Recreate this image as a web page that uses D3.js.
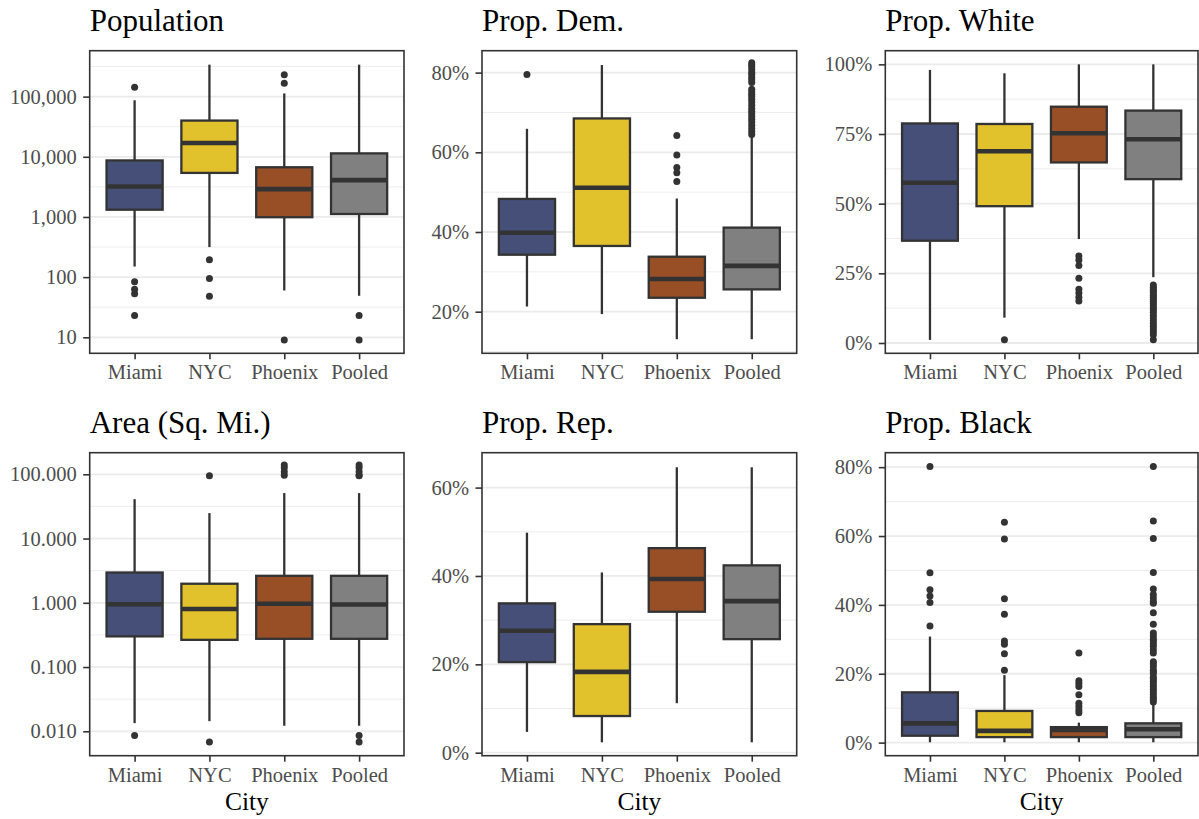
<!DOCTYPE html>
<html>
<head>
<meta charset="utf-8">
<script src="https://cdn.jsdelivr.net/npm/d3@7"></script>
<style>
  html, body { margin: 0; padding: 0; background: #ffffff; }
  svg { display: block; }
  svg text { font-family: "Liberation Serif", "Tinos", "Times New Roman", "Nimbus Roman", "DejaVu Serif", serif; }
</style>
</head>
<body>
<svg id="chart" width="1199" height="819"></svg>
<script>
// ---------------- DATA ----------------
const cities = ["Miami", "NYC", "Phoenix", "Pooled"];
const cityColors = ["#454F77", "#E2C22C", "#984F26", "#808080"];

// box stats per city: [lower whisker, Q1, median, Q3, upper whisker]
const popStats = [[150, 1320, 3200, 8700, 87000], [316, 5400, 17000, 40000, 340000], [60, 990, 2900, 6700, 113000], [49, 1120, 4100, 11400, 340000]];
const popOutliers = [[143000, 84, 63, 53, 23], [195, 95, 48], [232000, 167000, 9], [23, 9]];
const popTicks = [10, 100, 1000, 10000, 100000];
const popDomain = [5.42, 580000];

const demStats = [[0.213, 0.343, 0.398, 0.483, 0.659], [0.194, 0.365, 0.511, 0.685, 0.819], [0.131, 0.235, 0.282, 0.338, 0.484], [0.131, 0.256, 0.315, 0.411, 0.640]];
const demOutliers = [[0.795], [], [0.642, 0.593, 0.562, 0.549, 0.527],
  [0.825, 0.82, 0.815, 0.808, 0.80, 0.795, 0.788, 0.782, 0.775, 0.758, 0.752, 0.746, 0.74, 0.733, 0.726, 0.718, 0.71, 0.703, 0.697, 0.69, 0.683, 0.676, 0.668, 0.66, 0.652, 0.645]];
const demTicks = [0.2, 0.4, 0.6, 0.8];
const demDomain = [0.0956, 0.855];

const whiteStats = [[0.011, 0.367, 0.575, 0.788, 0.98], [0.091, 0.491, 0.688, 0.786, 0.968], [0.373, 0.648, 0.753, 0.848, 1.0], [0.236, 0.588, 0.731, 0.834, 1.0]];
const whiteOutliers = [[], [0.012], [0.312, 0.298, 0.278, 0.232, 0.193, 0.179, 0.164, 0.151],
  [0.208, 0.2, 0.193, 0.186, 0.179, 0.171, 0.164, 0.157, 0.15, 0.142, 0.134, 0.126, 0.118, 0.11, 0.1, 0.09, 0.08, 0.07, 0.06, 0.05, 0.04, 0.03, 0.012]];
const whiteTicks = [0, 0.25, 0.5, 0.75, 1.0];
const whiteDomain = [-0.037, 1.049];

const areaStats = [[0.0134, 0.30, 0.95, 2.96, 41], [0.0144, 0.265, 0.80, 1.98, 24.9], [0.0122, 0.275, 0.965, 2.63, 51], [0.0122, 0.275, 0.94, 2.63, 51]];
const areaOutliers = [[0.0086], [95, 0.0068], [140, 126, 110, 97], [140, 126, 110, 97, 95, 0.0086, 0.0068]];
const areaTicks = [0.01, 0.1, 1, 10, 100];
const areaDomain = [0.00417, 216.8];

const repStats = [[0.047, 0.205, 0.276, 0.338, 0.498], [0.0235, 0.083, 0.183, 0.291, 0.408], [0.112, 0.319, 0.393, 0.463, 0.646], [0.0235, 0.257, 0.343, 0.424, 0.646]];
const repOutliers = [[], [], [], []];
const repTicks = [0, 0.2, 0.4, 0.6];
const repDomain = [-0.0068, 0.679];

const blackStats = [[0.001, 0.020, 0.056, 0.146, 0.308], [0.001, 0.016, 0.034, 0.092, 0.196], [0.001, 0.016, 0.037, 0.045, 0.058], [0.001, 0.016, 0.039, 0.056, 0.112]];
const blackOutliers = [[0.802, 0.493, 0.444, 0.426, 0.407, 0.339], [0.64, 0.591, 0.418, 0.373, 0.295, 0.286, 0.258, 0.21],
  [0.26, 0.18, 0.172, 0.163, 0.139, 0.114, 0.105, 0.095, 0.087],
  [0.802, 0.644, 0.593, 0.494, 0.446, 0.43, 0.42, 0.41, 0.405, 0.377, 0.344, 0.318, 0.31, 0.30, 0.295, 0.287, 0.28, 0.27, 0.26, 0.235, 0.228, 0.22, 0.21, 0.205, 0.2, 0.19, 0.185, 0.178, 0.17, 0.163, 0.155, 0.148, 0.14, 0.132, 0.125, 0.118]];
const blackTicks = [0, 0.2, 0.4, 0.6, 0.8];
const blackDomain = [-0.038, 0.842];

const titles = ["Population", "Prop. Dem.", "Prop. White", "Area (Sq. Mi.)", "Prop. Rep.", "Prop. Black"];
const xTitle = "City";

// ---------------- LAYOUT ----------------
const colLeft = [89.7, 482, 885.3];
const colRight = [404, 796.7, 1198];
const rowTop = [50.7, 452.7];
const rowBottom = [353.3, 755.7];

const fmtComma = d3.format(",");
const fmt3 = d3.format(".3f");
const fmtPct = d3.format(".0%");

const panels = [
  { title: titles[0], stats: popStats, out: popOutliers, ticks: popTicks, domain: popDomain, log: true, fmt: fmtComma, col: 0, row: 0 },
  { title: titles[1], stats: demStats, out: demOutliers, ticks: demTicks, domain: demDomain, log: false, fmt: fmtPct, col: 1, row: 0 },
  { title: titles[2], stats: whiteStats, out: whiteOutliers, ticks: whiteTicks, domain: whiteDomain, log: false, fmt: fmtPct, col: 2, row: 0 },
  { title: titles[3], stats: areaStats, out: areaOutliers, ticks: areaTicks, domain: areaDomain, log: true, fmt: fmt3, col: 0, row: 1 },
  { title: titles[4], stats: repStats, out: repOutliers, ticks: repTicks, domain: repDomain, log: false, fmt: fmtPct, col: 1, row: 1 },
  { title: titles[5], stats: blackStats, out: blackOutliers, ticks: blackTicks, domain: blackDomain, log: false, fmt: fmtPct, col: 2, row: 1 }
];

const svg = d3.select("#chart");
svg.append("rect").attr("width", 1199).attr("height", 819).attr("fill", "#ffffff");

function minorBreaks(ticks, log) {
  const t = log ? ticks.map(v => Math.log10(v)) : ticks.slice();
  const step = t[1] - t[0];
  const ext = [t[0] - step].concat(t, [t[t.length - 1] + step]);
  const res = [];
  for (let i = 0; i < ext.length - 1; i++) {
    const m = (ext[i] + ext[i + 1]) / 2;
    res.push(log ? Math.pow(10, m) : m);
  }
  return res;
}

panels.forEach(p => {
  const L = colLeft[p.col], R = colRight[p.col], T = rowTop[p.row], B = rowBottom[p.row];
  const g = svg.append("g");
  const x = d3.scalePoint().domain(cities).range([L, R]).padding(0.6);
  const y = (p.log ? d3.scaleLog() : d3.scaleLinear()).domain(p.domain).range([B, T]);
  const bw = x.step() * 0.75;
  const inRange = v => { const yy = y(v); return yy >= T && yy <= B; };

  // gridlines
  g.selectAll(".minor").data(minorBreaks(p.ticks, p.log).filter(inRange)).join("line")
    .attr("x1", L).attr("x2", R).attr("y1", d => y(d)).attr("y2", d => y(d))
    .attr("stroke", "#EBEBEB").attr("stroke-width", 0.9);
  g.selectAll(".major").data(p.ticks.filter(inRange)).join("line")
    .attr("x1", L).attr("x2", R).attr("y1", d => y(d)).attr("y2", d => y(d))
    .attr("stroke", "#EBEBEB").attr("stroke-width", 1.8);

  // boxes
  cities.forEach((c, i) => {
    const s = p.stats[i];
    const cx = x(c);
    const bg = g.append("g");
    bg.append("line").attr("x1", cx).attr("x2", cx).attr("y1", y(s[0])).attr("y2", y(s[1]))
      .attr("stroke", "#333333").attr("stroke-width", 2.3);
    bg.append("line").attr("x1", cx).attr("x2", cx).attr("y1", y(s[3])).attr("y2", y(s[4]))
      .attr("stroke", "#333333").attr("stroke-width", 2.3);
    bg.append("rect").attr("x", cx - bw / 2).attr("width", bw)
      .attr("y", y(s[3])).attr("height", y(s[1]) - y(s[3]))
      .attr("fill", cityColors[i]).attr("stroke", "#333333").attr("stroke-width", 2.3);
    bg.append("line").attr("x1", cx - bw / 2).attr("x2", cx + bw / 2).attr("y1", y(s[2])).attr("y2", y(s[2]))
      .attr("stroke", "#333333").attr("stroke-width", 4.6);
    bg.selectAll("circle").data(p.out[i]).join("circle")
      .attr("cx", cx).attr("cy", d => y(d)).attr("r", 3.5).attr("fill", "#333333");
  });

  // border
  g.append("rect").attr("x", L).attr("y", T).attr("width", R - L).attr("height", B - T)
    .attr("fill", "none").attr("stroke", "#333333").attr("stroke-width", 1.6);

  // axes
  const ya = g.append("g").attr("transform", `translate(${L},0)`)
    .call(d3.axisLeft(y).tickValues(p.ticks).tickFormat(p.fmt).tickSize(6.5).tickPadding(6.5));
  const xa = g.append("g").attr("transform", `translate(0,${B})`)
    .call(d3.axisBottom(x).tickSize(6).tickPadding(5.5));
  [ya, xa].forEach(a => {
    a.attr("font-family", null).attr("font-size", null);
    a.select(".domain").remove();
    a.selectAll(".tick line").attr("stroke", "#333333").attr("stroke-width", 1.6);
    a.selectAll(".tick text").attr("fill", "#4D4D4D").style("font-size", "20.5px");
  });

  // title
  g.append("text").attr("x", L).attr("y", T - 20).text(p.title)
    .style("font-size", "31px").attr("fill", "#000000");
  if (p.row === 1) {
    g.append("text").attr("x", (L + R) / 2).attr("y", 810).attr("text-anchor", "middle").text(xTitle)
      .style("font-size", "25.5px").attr("fill", "#000000");
  }
});
</script>
</body>
</html>
